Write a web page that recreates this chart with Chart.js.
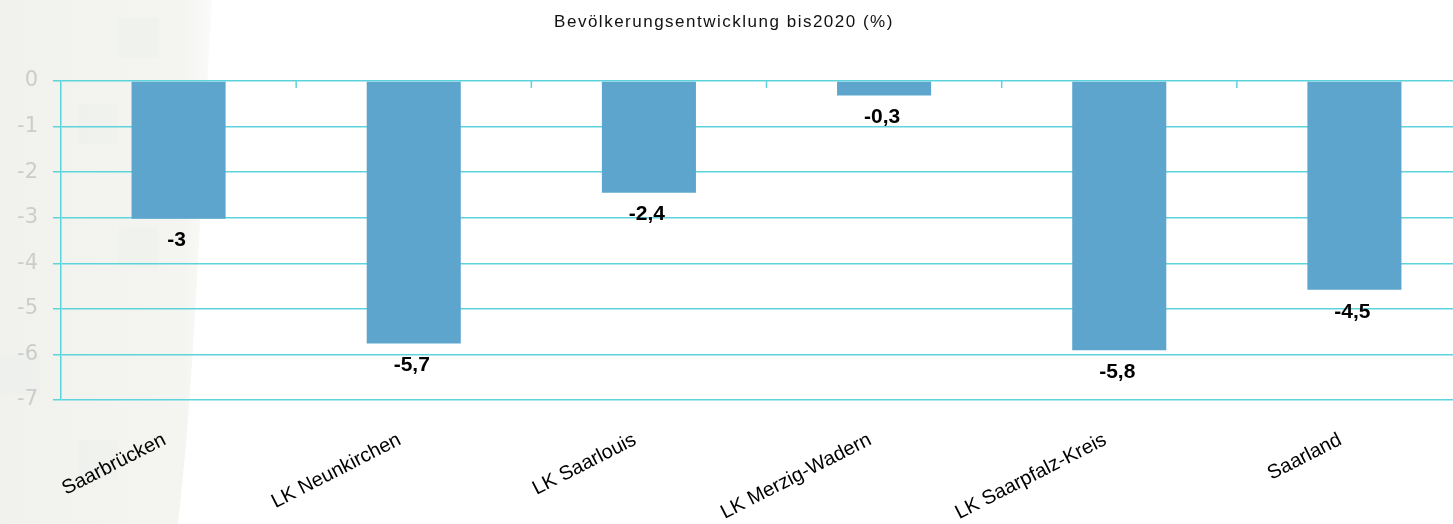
<!DOCTYPE html>
<html>
<head>
<meta charset="utf-8">
<script src="https://cdn.jsdelivr.net/npm/chart.js@4.4.1/dist/chart.umd.min.js"></script>
<style>
  html, body { margin: 0; padding: 0; overflow: hidden; background: #fff; }
  #wrap { width: 1472px; height: 524px; position: relative; }
</style>
</head>
<body>
<div id="wrap"><canvas id="chart"></canvas></div>
<script>
const categories = ['Saarbrücken', 'LK Neunkirchen', 'LK Saarlouis', 'LK Merzig-Wadern', 'LK Saarpfalz-Kreis', 'Saarland'];
const values = [-3.02, -5.76, -2.45, -0.32, -5.91, -4.58];
const valueLabels = ['-3', '-5,7', '-2,4', '-0,3', '-5,8', '-4,5'];
const yTicks = [0, -1, -2, -3, -4, -5, -6, -7];
const titleText = 'Bevölkerungsentwicklung bis2020 (%)';

const gridColor = '#5dd4db';

// faint grey panel on the left side of the slide
const backdrop = {
  id: 'backdrop',
  beforeDraw(chart) {
    const ctx = chart.ctx;
    ctx.save();
    const g = ctx.createLinearGradient(0, 0, 230, 0);
    g.addColorStop(0, '#f1f2ee');
    g.addColorStop(0.8, '#f4f5f1');
    g.addColorStop(1, '#ffffff');
    ctx.fillStyle = g;
    ctx.beginPath();
    ctx.moveTo(0, 0);
    ctx.lineTo(212, 0);
    ctx.bezierCurveTo(200, 200, 195, 380, 178, 524);
    ctx.lineTo(0, 524);
    ctx.closePath();
    ctx.fill();
    ctx.fillStyle = 'rgba(220,232,228,0.18)';
    [[118, 18], [78, 104], [118, 228], [0, 355], [78, 440]].forEach(([x, y]) => {
      ctx.fillRect(x, y, 40, 40);
    });

    // title, slightly letter spaced like the original
    ctx.fillStyle = '#111';
    ctx.font = '17px "Liberation Sans", Arial, sans-serif';
    ctx.letterSpacing = '1.5px';
    ctx.textAlign = 'center';
    ctx.textBaseline = 'middle';
    ctx.fillText(titleText, 724, 22);
    ctx.restore();
  }
};

// value labels under each bar and small ticks on the zero line
const barLabels = {
  id: 'barLabels',
  afterDatasetsDraw(chart) {
    const ctx = chart.ctx;
    const meta = chart.getDatasetMeta(0);
    const xs = chart.scales.x;
    const y0 = chart.scales.y.getPixelForValue(0);
    ctx.save();
    ctx.strokeStyle = gridColor;
    ctx.lineWidth = 1.5;
    for (let i = 1; i < categories.length; i++) {
      const bx = (xs.getPixelForValue(i - 1) + xs.getPixelForValue(i)) / 2;
      ctx.beginPath();
      ctx.moveTo(bx, y0);
      ctx.lineTo(bx, y0 + 7);
      ctx.stroke();
    }
    ctx.fillStyle = '#000';
    ctx.font = 'bold 21px "Liberation Sans Narrow", "Arial Narrow", sans-serif';
    ctx.textAlign = 'center';
    ctx.textBaseline = 'middle';
    meta.data.forEach((bar, i) => {
      ctx.fillText(valueLabels[i], bar.x - 2, bar.y + 22);
    });
    ctx.restore();
  }
};

new Chart(document.getElementById('chart'), {
  type: 'bar',
  data: {
    labels: categories,
    datasets: [{
      data: values,
      backgroundColor: '#5ea5cd',
      borderWidth: 0,
      barPercentage: 0.4,
      categoryPercentage: 1.0
    }]
  },
  options: {
    responsive: true,
    maintainAspectRatio: false,
    animation: false,
    layout: { padding: { top: 81, right: 0, left: 0, bottom: 0 } },
    plugins: {
      legend: { display: false },
      tooltip: { enabled: false },
      title: { display: false }
    },
    scales: {
      x: {
        grid: { display: false, drawTicks: false },
        border: { display: false },
        ticks: {
          color: '#000',
          font: { family: '"Liberation Sans", Arial, sans-serif', size: 20 },
          minRotation: 27,
          maxRotation: 27,
          autoSkip: false,
          padding: 28,
          labelOffset: -14
        },
        afterFit(s) { s.height = 124; }
      },
      y: {
        min: -7,
        max: 0,
        afterBuildTicks(s) { s.ticks = yTicks.map(v => ({ value: v })); },
        grid: { color: gridColor, lineWidth: 1.5, tickLength: 8 },
        border: { display: true, color: gridColor, width: 1.5 },
        ticks: {
          color: '#cccccc',
          font: { family: '"DejaVu Sans", Verdana, sans-serif', size: 21 },
          padding: 15
        },
        afterFit(s) { s.width = 61; }
      }
    }
  },
  plugins: [backdrop, barLabels]
});
</script>
</body>
</html>
